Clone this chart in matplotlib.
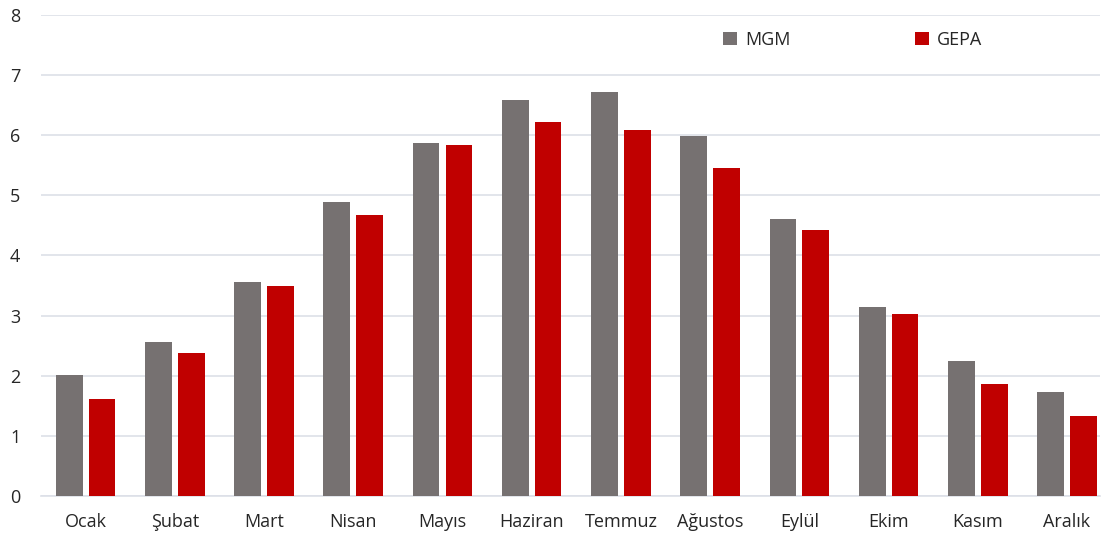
import matplotlib.pyplot as plt
import numpy as np

months = ["Ocak", "Şubat", "Mart", "Nisan", "Mayıs", "Haziran",
          "Temmuz", "Ağustos", "Eylül", "Ekim", "Kasım", "Aralık"]
mgm = [2.01, 2.56, 3.56, 4.88, 5.87, 6.59, 6.71, 5.99, 4.61, 3.14, 2.25, 1.73]
gepa = [1.62, 2.37, 3.49, 4.67, 5.84, 6.22, 6.09, 5.46, 4.43, 3.03, 1.86, 1.33]
y_ticks = [0, 1, 2, 3, 4, 5, 6, 7, 8]

plt.rcParams["font.family"] = ["Open Sans", "DejaVu Sans"]

fig = plt.figure(figsize=(11.1, 5.37), dpi=100)
# axes spans 41px..1100px, last category is clipped a bit like the original
ax = fig.add_axes([41 / 1110, 0.0764, 1059 / 1110, 0.896])

x = np.arange(len(months))
w = 0.30
ax.bar(x - 0.034 - w / 2, mgm, w, color="#767171", label="MGM", zorder=3)
ax.bar(x + 0.034 + w / 2, gepa, w, color="#C00000", label="GEPA", zorder=3)

ax.set_xlim(-0.5, 11.37)
ax.set_ylim(0, 8)
ax.set_yticks(y_ticks)
ax.set_xticks(x)
ax.set_xticklabels(months)
ax.tick_params(axis="both", length=0, labelsize=13, colors="#262626")
ax.tick_params(axis="y", pad=15)
ax.tick_params(axis="x", pad=12)
ax.yaxis.grid(True, color="#dde0e8", linewidth=1.2, zorder=0)
for side in ["top", "right", "left"]:
    ax.spines[side].set_visible(False)
ax.spines["bottom"].set_color("#dde0e8")
ax.spines["bottom"].set_linewidth(1.2)

ax.legend(loc="upper left", bbox_to_anchor=(0.629, 1.0), ncol=2, frameon=False,
          fontsize=13, handlelength=0.75, handleheight=0.75, handletextpad=0.45,
          columnspacing=6.9, labelcolor="#262626")

fig.savefig("out.png", dpi=100)
